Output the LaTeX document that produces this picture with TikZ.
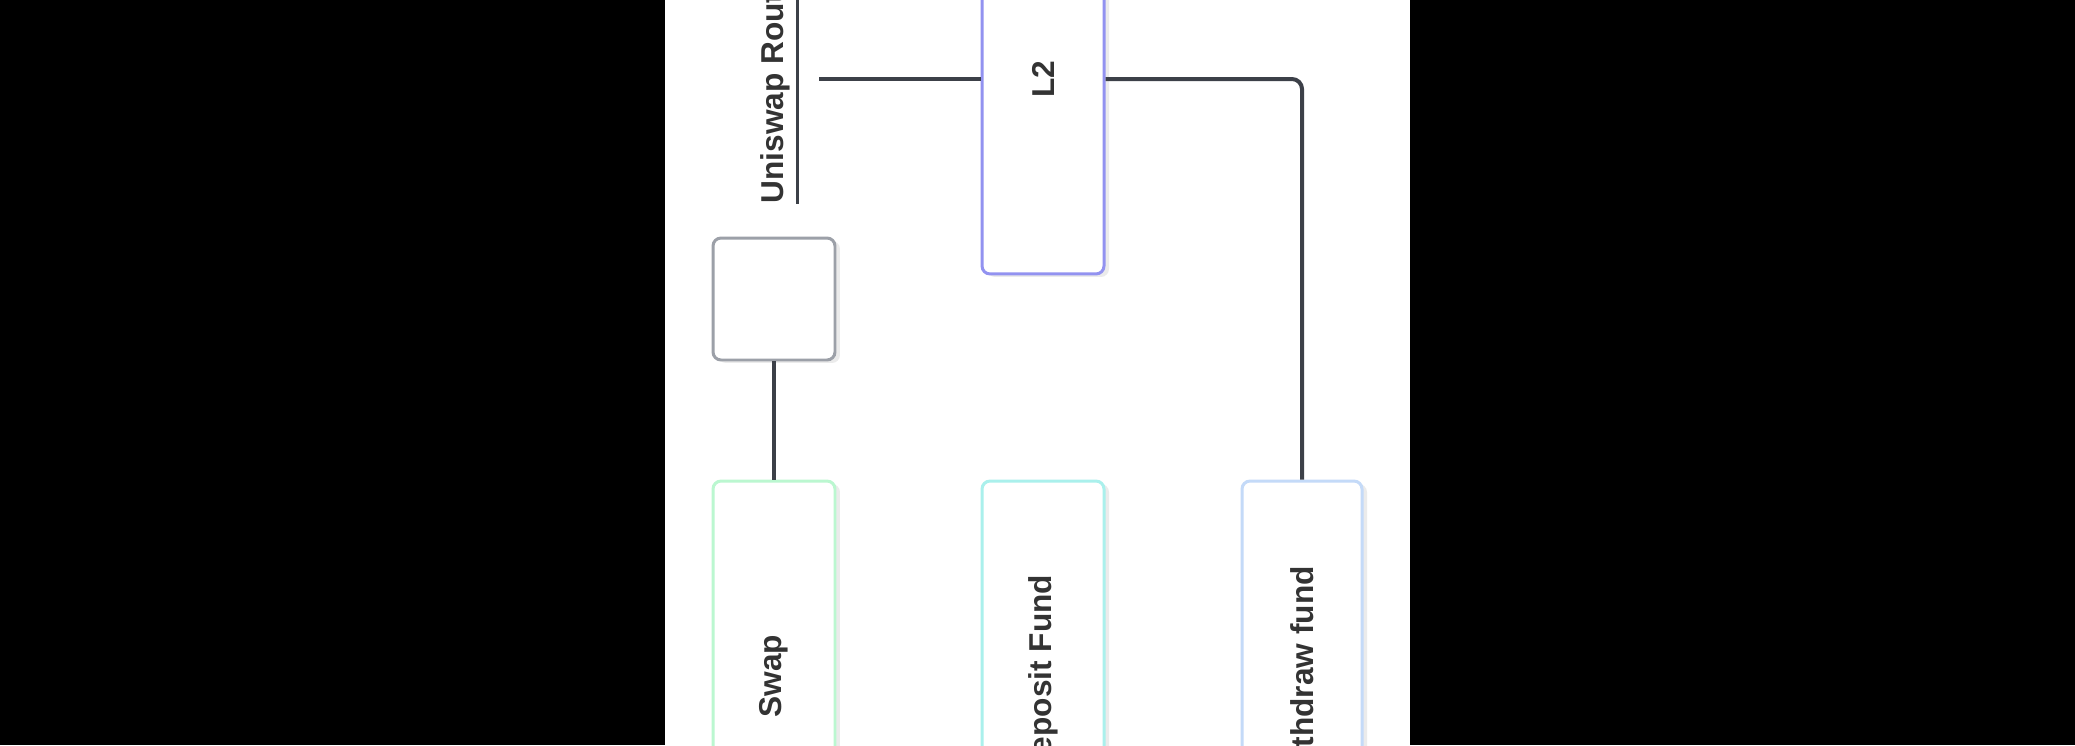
\documentclass[tikz,border=0pt]{standalone}
\usepackage{fontspec}
\setmainfont{Liberation Sans}
\usetikzlibrary{shadows}
\definecolor{lanecolor}{RGB}{146, 146, 240}
\definecolor{blankcolor}{RGB}{156, 160, 168}
\definecolor{swapcolor}{RGB}{187, 247, 208}
\definecolor{depositcolor}{RGB}{170, 240, 236}
\definecolor{withdrawcolor}{RGB}{196, 218, 248}
\definecolor{linkcolor}{RGB}{60, 64, 72}
\definecolor{labelcolor}{RGB}{51, 51, 51}
\newcommand{\uptext}[1]{\rotatebox{90}{#1}}

\begin{document}
\begin{tikzpicture}[x=0.02cm, y=-0.02cm,
        card/.style={draw=#1, fill=white, line width=0.06cm, rounded corners=0.16cm,
            minimum width=2.44cm, minimum height=7.8cm, inner sep=0pt,
            drop shadow={shadow xshift=0.1cm, shadow yshift=-0.06cm, opacity=0.08, fill=black},
            text=labelcolor, font=\fontsize{18}{22}\selectfont\bfseries},
        link/.style={draw=linkcolor, line width=0.08cm}]
        \useasboundingbox (0,0) rectangle (2075,745);
        \clip (0,0) rectangle (2075,745);

        % Page
        \fill[black] (0,0) rectangle (2075,745);
        \fill[white] (665,0) rectangle (1410,745);

        % Router label
        \node[anchor=east, inner xsep=0.14cm, inner ysep=0pt, text=labelcolor,
            font=\fontsize{18}{22}\selectfont\bfseries] (router) at (797,83) {\uptext{Uniswap Router}};
        \draw[link, line width=0.06cm] (router.north east) -- (router.south east);

        % L2 Box
        \node[card=lanecolor] (l2) at (1043,79) {\uptext{L2}};

        % Empty Box
        \node[card=blankcolor, minimum height=2.44cm] (blank) at (774,299) {};

        % Action Boxes
        \node[card=swapcolor] (swap) at (774,676) {\uptext{Swap}};
        \node[card=depositcolor] (deposit) at (1043,676) {\uptext{Deposit Fund}};
        \node[card=withdrawcolor, minimum width=2.4cm] (withdraw) at (1302,676) {\uptext{Withdraw fund}};

        % Connections
        \draw[link, shorten <=0.44cm] (l2.west -| router.east) -- (l2.west);
        \draw[link, rounded corners=0.2cm] (l2.east) -| (withdraw.north);
        \draw[link] (blank.south) -- (swap.north);
    \end{tikzpicture}
\end{document}
